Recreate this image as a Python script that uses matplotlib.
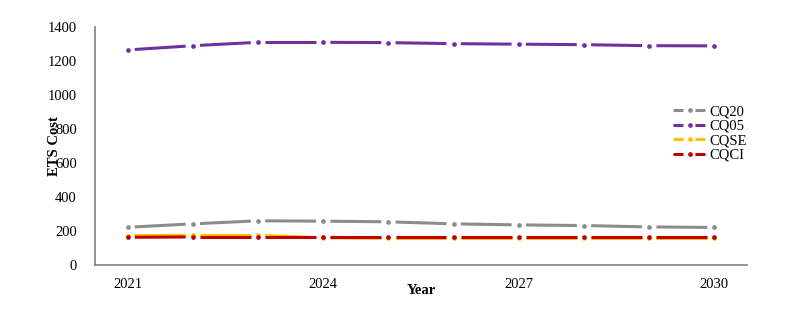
import numpy as np
import matplotlib
matplotlib.use('Agg')
import matplotlib.pyplot as plt
from matplotlib.lines import Line2D

plt.rcParams['font.family'] = ['Liberation Serif', 'DejaVu Serif']
plt.rcParams['lines.scale_dashes'] = False

# data
years = [2021, 2022, 2023, 2024, 2025, 2026, 2027, 2028, 2029, 2030]
tick_years = [2021, 2024, 2027, 2030]
cq20 = [222, 242, 260, 258, 254, 242, 236, 232, 224, 221]
cq05 = [1265, 1290, 1310, 1310, 1308, 1302, 1299, 1296, 1290, 1289]
cqse = [173, 175, 175, 160, 157, 157, 157, 157, 157, 157]
cqci = [163, 165, 165, 165, 165, 165, 165, 165, 165, 165]

series = [('CQ20', cq20, '#8c8c8c'),
          ('CQ05', cq05, '#7030a0'),
          ('CQSE', cqse, '#ffc000'),
          ('CQCI', cqci, '#c00000')]

fig = plt.figure(figsize=(8.07, 3.10), dpi=100)
ax = fig.add_axes([95/807, 1-265/310, 652/807, 238/310])

x = np.arange(len(years))
gap = 0.11  # fraction of a category left blank round each dot
handles = []
for name, vals, col in series:
    v = np.array(vals, dtype=float)
    for i in range(len(x) - 1):
        xs = np.array([x[i] + gap, x[i+1] - gap])
        ys = np.interp(xs, x[i:i+2], v[i:i+2])
        ax.plot(xs, ys, color=col, lw=2.2, solid_capstyle='butt')
    ax.plot(x, v, 'o', color=col, ms=3.4, mec='none')
    handles.append(Line2D([], [], color=col, lw=2.2, linestyle=(0, (7.2, 8.6)),
                          marker='o', ms=3.4, mec='none', dash_capstyle='butt'))

ax.set_xlim(-0.5, len(years) - 0.5)
ax.set_ylim(0, 1400)
ax.set_yticks(np.arange(0, 1401, 200))
ax.set_xticks([years.index(y) for y in tick_years])
ax.set_xticklabels([str(y) for y in tick_years])
ax.tick_params(length=0, labelsize=10.5)
ax.tick_params(axis='y', pad=13)
ax.tick_params(axis='x', pad=9)

for s in ['top', 'right']:
    ax.spines[s].set_visible(False)
for s in ['left', 'bottom']:
    ax.spines[s].set_color('#808080')
    ax.spines[s].set_linewidth(1.2)

ax.set_ylabel('ETS Cost', fontsize=10.5, fontweight='bold')
ax.yaxis.set_label_coords(-0.052, 0.5)
ax.set_xlabel('Year', fontsize=10.5, fontweight='bold')
ax.xaxis.set_label_coords(0.5, -0.08)

fig.legend(handles, [s[0] for s in series], loc='center left',
           bbox_to_anchor=(673/807, 1-133.5/310), bbox_transform=fig.transFigure,
           frameon=False, fontsize=10.5, handlelength=2.3, handletextpad=0.2,
           labelspacing=0.09, borderpad=0, borderaxespad=0, numpoints=1)

fig.savefig('out.png', dpi=100)
